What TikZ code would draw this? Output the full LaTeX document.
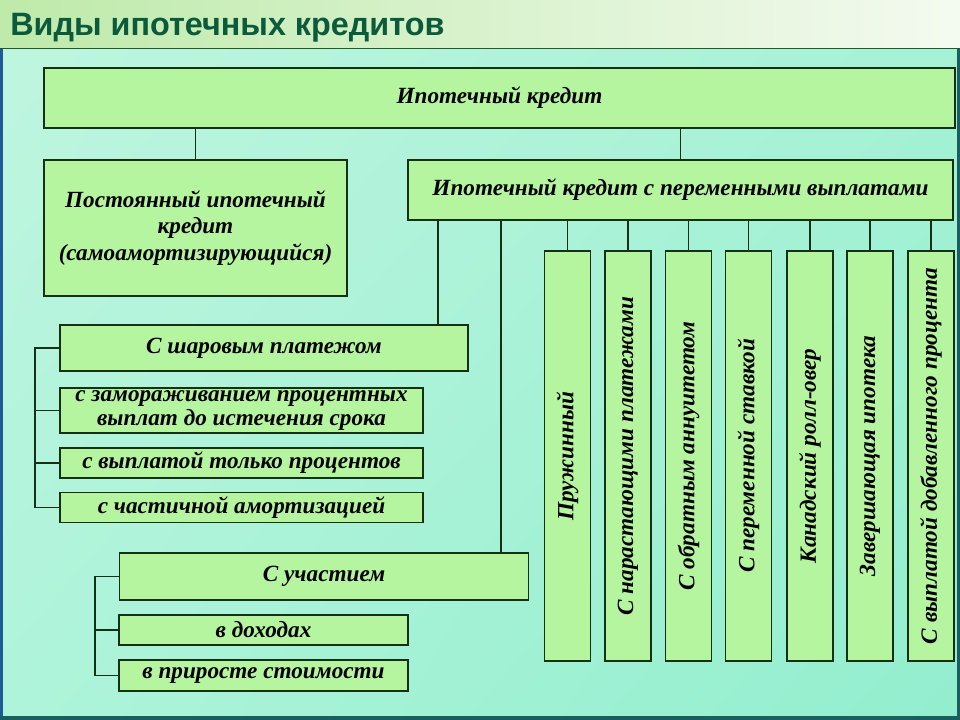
\documentclass[tikz,border=0pt]{standalone}
\usepackage{fontspec}
\usetikzlibrary{shadings}
\setmainfont{Liberation Serif}
\newfontfamily\titlefont{Liberation Sans}
\definecolor{boxfill}{RGB}{182,245,160}
\definecolor{boxline}{RGB}{22,48,22}
\definecolor{bgul}{RGB}{192,245,224}
\definecolor{bgur}{RGB}{166,242,214}
\definecolor{bgll}{RGB}{174,244,218}
\definecolor{bglr}{RGB}{146,238,206}
\definecolor{barleft}{RGB}{190,234,170}
\definecolor{barright}{RGB}{244,250,240}
\definecolor{bartext}{RGB}{12,90,60}
\definecolor{edgeblue}{RGB}{30,90,150}
\definecolor{edgeteal}{RGB}{25,95,95}

\begin{document}
\begin{tikzpicture}[
    x = 0.025cm, y = -0.025cm,
    box/.style  = {draw=boxline,
                   line width=1.3pt,
                   fill=boxfill,
                   inner sep=0pt,
                   align=center,
                   font=\bfseries\itshape\fontsize{16.5}{19}\selectfont},
    sz/.style 2 args = {minimum width=#1*0.025cm,
                        minimum height=#2*0.025cm},
    vbox/.style = {box,
                   rotate=90,
                   sz={410}{46}},
    link/.style = {draw=boxline,
                   line width=1.3pt}
]
\useasboundingbox (0,0) rectangle (960,720);
\shade [upper left=bgul, upper right=bgur, lower left=bgll, lower right=bglr]
    (0,0) rectangle (960,720);
\shade [left color=barleft, right color=barright] (0,0) rectangle (960,48);
\draw [gray!60!green!50!black, line width=1.2pt] (0,48.5) -- (960,48.5);
\fill [edgeblue] (0,49) rectangle (3,720);
\fill [edgeteal] (957,49) rectangle (960,720);
\fill [edgeteal] (0,716) rectangle (960,720);
\node (title) [anchor=base west, inner sep=0pt, text=bartext,
               font=\titlefont\bfseries\fontsize{23}{27}\selectfont] at (10,36)
    {Виды ипотечных кредитов};

\node (mort)    [box, sz={911}{60}]  at (499.5,98)   {Ипотечный кредит};
\node (fixed)   [box, sz={303}{136}] at (195.5,228)  {Постоянный ипотечный\\
кредит\\
(самоамортизирующийся)};
\node (var)     [box, sz={545}{60}]  at (680.5,190)  {Ипотечный кредит с переменными выплатами};
\draw [link] (fixed.north) -- (fixed.north |- mort.south);
\draw [link] (var.north) -- (var.north |- mort.south);

\node (balloon) [box, sz={408}{46}]  at (264,348)    {С шаровым платежом};
\node (freeze)  [box, sz={363}{45}]  at (241.5,410.5) {с замораживанием процентных\\[-2pt]
выплат до истечения срока};
\node (intonly) [box, sz={363}{30}]  at (241.5,463)  {с выплатой только процентов};
\node (partial) [box, sz={363}{30}]  at (241.5,507.5) {с частичной амортизацией};
\coordinate (bt) at ([xshift=-0.775cm]balloon.north east);
\draw [link] (bt) -- (bt |- var.south);
\draw [link] (balloon.west) -- ++(-24,0) |- (partial.west);
\draw [link] (freeze.west) -- ++(-24,0);
\draw [link] (intonly.west) -- ++(-24,0);

\node (share)   [box, sz={409}{47}]  at (324,576.5)  {С участием};
\node (income)  [box, sz={289}{30}]  at (263.5,630)  {в доходах};
\node (growth)  [box, sz={289}{31}]  at (263.5,675.5) {в приросте стоимости};
\coordinate (st) at ([xshift=-0.7125cm]share.north east);
\draw [link] (st) -- (st |- var.south);
\draw [link] (share.west) -- ++(-24,0) |- (growth.west);
\draw [link] (income.west) -- ++(-24,0);

\node (spring)  [vbox] at (567.5,456) {Пружинный};
\node (grad)    [vbox] at (628,456)   {С нарастающими платежами};
\node (rev)     [vbox] at (688.5,456) {С обратным аннуитетом};
\node (adj)     [vbox] at (748.5,456) {С переменной ставкой};
\node (roll)    [vbox] at (810,456)   {Канадский ролл-овер};
\node (wrap)    [vbox] at (870,456)   {Завершающая ипотека};
\node (added)   [vbox] at (931,456)   {С выплатой добавленного процента};
\draw [link] (spring.east) -- (spring.east |- var.south);
\draw [link] (grad.east) -- (grad.east |- var.south);
\draw [link] (rev.east) -- (rev.east |- var.south);
\draw [link] (adj.east) -- (adj.east |- var.south);
\draw [link] (roll.east) -- (roll.east |- var.south);
\draw [link] (wrap.east) -- (wrap.east |- var.south);
\draw [link] (added.east) -- (added.east |- var.south);
\end{tikzpicture}
\end{document}
